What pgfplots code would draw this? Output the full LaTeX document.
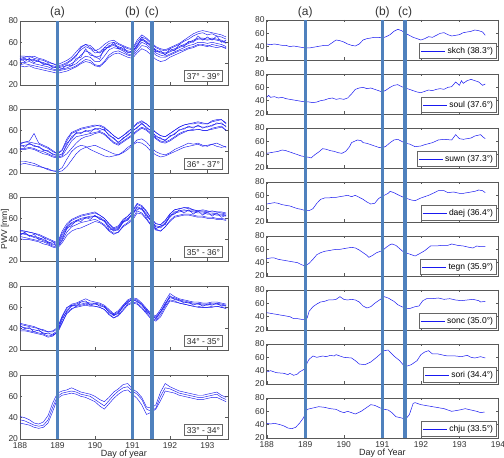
\documentclass[border=0pt]{standalone}
\usepackage{pgfplots}
\usepackage{pgfplotstable}
\pgfplotsset{compat=1.18}
\usepackage{fontspec}
\setmainfont{Liberation Sans}
\definecolor{vl}{RGB}{79,129,189}
\definecolor{dlc}{RGB}{25,25,240}

\tikzset{
 lab/.style={draw=black!60, fill=white, font=\fontsize{8.5}{9}\selectfont, inner sep=2.5pt, anchor=south east, text=black!85},
 dline/.style={color=dlc, line width=0.45pt}
}
\pgfplotsset{
 panel/.style={scale only axis, ymin=20, ymax=80, ytick={20,40,60,80},
   xtick={188,189,190,191,192,193,194}, xticklabels={},
   tick align=inside, major tick length=2.5pt,
   axis line style={black!65, line width=0.5pt}, tick style={black!65, line width=0.4pt},
   tick label style={font=\fontsize{8.5}{9}\selectfont, text=black!80},
   yticklabel style={xshift=1.5pt},
   /pgf/number format/assume math mode=true,
   anchor=south west},
 lpanel/.style={panel, width=208pt, height=64pt, xmin=188, xmax=193.55},
 rpanel/.style={panel, width=231.3pt, height=40pt, xmin=188, xmax=194,
   legend style={at={(0.995,0.04)}, anchor=south east, font=\fontsize{8.5}{9}\selectfont,
     inner sep=1.6pt, draw=black!60, fill=white, legend cell align=left},
   legend image code/.code={\draw[##1] (0cm,0cm) -- (0.85cm,0cm);}}
}

\pgfplotstableread{
x a b c d e f g h
188.000 43 45 41 47 39 44 38 45
188.125 44 46 41 47 40 45 37 42
188.250 44 47 42 46 39 43 38 45
188.375 43 45 40 47 38 44 36 41
188.500 42 44 39 45 37 42 35 43
188.625 40 43 38 44 36 41 34 39
188.750 39 41 37 42 35 39 33 40
188.875 37 40 35 40 34 38 32 36
189.000 36 38 34 39 33 37 31 37
189.125 37 39 35 41 34 38 32 35
189.250 38 41 36 43 35 40 33 39
189.375 40 44 38 46 36 43 35 38
189.500 43 48 40 51 38 47 37 45
189.625 48 53 44 56 41 55 40 46
189.750 52 56 47 58 44 58 42 54
189.875 50 54 46 55 43 57 41 48
190.000 46 50 42 52 39 53 38 47
190.125 47 51 42 54 38 50 37 44
190.250 52 55 47 58 42 53 41 55
190.375 57 59 53 61 48 56 46 55
190.500 58 60 55 62 51 57 49 60
190.625 56 58 54 59 52 55 50 54
190.750 54 56 52 57 50 53 48 56
190.875 52 54 49 55 48 51 46 50
191.000 51 53 48 54 47 50 45 52
191.125 58 60 55 62 52 57 50 56
191.250 63 65 60 67 57 62 54 65
191.375 61 63 58 64 56 60 52 59
191.500 57 59 54 60 52 56 48 58
191.625 53 55 50 56 48 52 44 51
191.750 51 53 48 54 46 50 42 52
191.875 50 52 47 53 46 49 43 48
192.000 52 54 49 55 48 51 46 54
192.125 54 56 51 57 50 53 48 52
192.250 56 58 53 59 52 55 50 58
192.375 58 61 55 62 53 57 52 56
192.500 60 63 57 65 55 59 54 61
192.625 62 66 58 68 56 61 55 60
192.750 64 68 60 70 58 63 57 66
192.875 64 69 60 71 57 63 58 62
193.000 63 67 59 70 56 62 57 65
193.125 64 68 60 69 58 63 56 62
193.250 63 66 59 68 57 62 55 66
193.375 62 65 58 67 56 61 56 60
193.500 60 63 56 65 54 59 55 62
}\Lone

\pgfplotstableread{
x a b c d e f g h
188.000 45 48 43 47 42 31 28 47
188.125 46 49 43 49 42 31 29 44
188.250 47 49 44 50 43 30 28 48
188.375 46 48 43 57 42 29 27 45
188.500 44 47 41 48 40 27 26 45
188.625 42 45 40 46 38 25 25 41
188.750 40 43 38 44 37 23 24 41
188.875 38 40 36 41 35 22 22 37
189.000 36 38 35 38 34 22 21 37
189.125 38 41 36 42 35 25 22 37
189.250 46 50 43 52 38 33 26 48
189.375 54 57 50 58 43 40 32 52
189.500 57 59 54 60 48 44 38 58
189.625 58 61 55 62 52 46 42 57
189.750 59 62 56 63 54 45 44 60
189.875 60 63 57 64 55 42 45 58
190.000 61 64 58 65 57 40 46 62
190.125 62 65 59 64 58 38 44 60
190.250 60 63 57 62 56 36 42 61
190.375 56 59 53 59 52 35 40 55
190.500 52 55 49 55 48 36 38 53
190.625 49 52 47 52 46 37 37 48
190.750 52 55 50 55 49 39 40 53
190.875 56 58 53 59 52 42 44 55
191.000 59 62 56 62 55 46 47 60
191.125 63 66 60 67 59 49 51 62
191.250 66 68 63 69 62 48 52 67
191.375 63 66 61 66 60 45 49 62
191.500 59 62 57 62 56 40 44 60
191.625 55 58 53 58 52 37 40 54
191.750 52 55 50 55 49 35 38 53
191.875 51 54 49 54 48 36 37 50
192.000 54 57 51 57 50 38 39 55
192.125 57 60 54 60 53 40 42 56
192.250 60 63 57 63 56 42 44 61
192.375 62 65 59 65 58 44 46 61
192.500 63 66 60 66 60 45 48 64
192.625 63 66 61 67 60 46 47 62
192.750 64 67 61 68 61 47 48 65
192.875 63 66 60 67 60 45 46 62
193.000 63 66 60 66 60 46 45 64
193.125 65 68 62 69 61 47 47 64
193.250 66 69 63 70 62 45 48 67
193.375 67 70 64 70 63 44 46 66
193.500 63 67 60 66 60 45 44 64
}\Ltwo

\pgfplotstableread{
x a b c d e f g
188.000 46 48 43 49 41 45 44
188.125 45 48 42 48 40 46 47
188.250 44 47 41 47 40 44 43
188.375 43 46 40 46 39 42 45
188.500 42 44 39 45 38 41 40
188.625 40 42 38 43 36 39 42
188.750 38 40 36 41 35 37 37
188.875 36 38 34 39 33 35 38
189.000 34 36 33 37 32 35 33
189.125 42 46 39 48 37 44 40
189.250 50 53 47 55 44 52 51
189.375 55 58 52 59 48 56 53
189.500 57 60 54 61 50 58 58
189.625 59 62 56 63 51 60 57
189.750 60 63 57 64 53 61 61
189.875 61 64 58 65 55 62 59
190.000 62 65 59 66 57 62 63
190.125 60 63 57 63 56 61 59
190.250 57 60 54 60 53 58 58
190.375 52 55 49 55 48 53 50
190.500 48 51 46 50 45 49 49
190.625 50 53 47 52 47 51 49
190.750 56 59 53 58 52 57 57
190.875 59 62 56 62 55 60 58
191.000 63 66 60 67 58 64 65
191.125 70 73 67 74 65 71 68
191.250 68 71 65 72 64 69 70
191.375 63 66 60 67 59 64 61
191.500 57 60 54 60 53 58 59
191.625 52 55 50 55 49 53 50
191.750 51 54 48 54 48 52 53
191.875 55 58 52 58 52 56 54
192.000 61 64 58 64 57 62 63
192.125 65 68 62 68 61 66 64
192.250 66 69 63 69 62 67 68
192.375 67 70 64 70 63 68 65
192.500 67 69 64 70 63 67 68
192.625 66 68 63 68 62 67 64
192.750 65 67 62 67 61 66 67
192.875 65 67 62 68 61 66 63
193.000 64 66 61 67 60 65 66
193.125 64 67 61 66 60 65 62
193.250 63 66 60 66 59 64 65
193.375 63 65 60 66 59 64 61
193.500 62 64 59 65 58 63 63
}\Lthree

\pgfplotstableread{
x a b c d e f
188.000 42 44 40 45 38 43
188.125 41 43 39 44 38 40
188.250 40 42 38 43 37 41
188.375 39 41 37 42 36 37
188.500 38 40 36 40 35 39
188.625 36 38 35 39 34 35
188.750 35 37 33 37 32 36
188.875 35 37 34 38 33 34
189.000 38 40 36 41 37 37
189.125 48 51 45 52 46 50
189.250 57 59 55 60 54 56
189.375 61 63 59 62 58 62
189.500 62 64 60 63 61 61
189.625 63 66 61 65 62 65
189.750 64 68 62 65 63 66
189.875 63 66 61 64 62 62
190.000 63 65 61 64 61 64
190.125 62 64 60 63 60 61
190.250 60 62 58 61 58 61
190.375 56 58 54 57 53 55
190.500 52 54 50 53 50 53
190.625 55 57 53 56 52 54
190.750 60 62 58 61 57 61
190.875 65 67 63 66 62 64
191.000 67 69 65 68 64 68
191.125 66 68 64 67 63 65
191.250 62 64 60 63 59 63
191.375 57 59 55 58 54 56
191.500 52 54 50 53 49 53
191.625 50 52 48 51 47 49
191.750 55 58 53 56 51 56
191.875 63 66 61 64 59 62
192.000 69 73 67 70 66 71
192.125 68 70 66 69 65 67
192.250 66 68 64 67 64 67
192.375 65 67 63 66 63 64
192.500 64 66 62 65 62 65
192.625 63 65 61 64 61 62
192.750 63 65 61 64 60 64
192.875 62 64 60 63 60 61
193.000 62 64 60 63 60 63
193.125 63 65 61 64 60 62
193.250 63 65 61 64 61 64
193.375 62 64 60 63 60 61
193.500 61 63 59 62 59 62
}\Lfour

\pgfplotstableread{
x a b c
188.000 38 41 35
188.125 37 40 34
188.250 35 38 33
188.375 33 35 31
188.500 32 34 30
188.625 33 36 31
188.750 38 42 35
188.875 50 54 46
189.000 60 63 58
189.125 63 65 61
189.250 64 66 62
189.375 65 68 63
189.500 64 66 62
189.625 62 64 60
189.750 61 63 59
189.875 60 62 57
190.000 57 60 55
190.125 54 57 51
190.250 51 55 48
190.375 56 59 53
190.500 61 64 58
190.625 65 67 62
190.750 68 71 65
190.875 69 72 66
191.000 65 67 62
191.125 62 64 58
191.250 57 59 52
191.375 48 50 43
191.500 46 49 45
191.625 49 52 48
191.750 60 64 56
191.875 68 72 65
192.000 67 69 64
192.125 65 67 63
192.250 63 65 61
192.375 62 64 60
192.500 61 63 59
192.625 60 62 58
192.750 59 61 57
192.875 59 61 57
193.000 60 62 58
193.125 61 63 59
193.250 62 64 59
193.375 59 61 57
193.500 57 59 55
}\Lfive

\begin{document}
\begin{tikzpicture}[x=1pt,y=1pt]
\path[use as bounding box] (0,0) rectangle (504,458);

% ---------- left column ----------
\begin{axis}[lpanel, at={(20pt,373pt)}]
\pgfplotsinvokeforeach{a,b,c,d,e,f,g,h}{\addplot[dline] table[x=x,y=#1]{\Lone};}
\node[lab] at (rel axis cs:0.975,0.05) {37° - 39°};
\end{axis}

\begin{axis}[lpanel, at={(20pt,285pt)}]
\pgfplotsinvokeforeach{a,b,c,d,e,f,g,h}{\addplot[dline] table[x=x,y=#1]{\Ltwo};}
\node[lab] at (rel axis cs:0.975,0.05) {36° - 37°};
\end{axis}

\begin{axis}[lpanel, at={(20pt,197pt)}, ylabel={PWV [mm]},
  ylabel style={at={(axis description cs:-0.072,0.5)}, anchor=center, font=\fontsize{8.5}{9}\selectfont, text=black!85}]
\pgfplotsinvokeforeach{a,b,c,d,e,f,g}{\addplot[dline] table[x=x,y=#1]{\Lthree};}
\node[lab] at (rel axis cs:0.975,0.05) {35° - 36°};
\end{axis}

\begin{axis}[lpanel, at={(20pt,108pt)}]
\pgfplotsinvokeforeach{a,b,c,d,e,f}{\addplot[dline] table[x=x,y=#1]{\Lfour};}
\node[lab] at (rel axis cs:0.975,0.05) {34° - 35°};
\end{axis}

\begin{axis}[lpanel, at={(20pt,19pt)}, xticklabels={188,189,190,191,192,193},
  xlabel={Day of year}, xlabel style={font=\fontsize{9}{10}\selectfont, text=black!85, yshift=5pt}]
\pgfplotsinvokeforeach{a,b,c}{\addplot[dline] table[x=x,y=#1]{\Lfive};}
\node[lab] at (rel axis cs:0.975,0.05) {33° - 34°};
\end{axis}

% ---------- right column ----------
\begin{axis}[rpanel, at={(266.7pt,398pt)}]
\addplot[dline, line width=0.5pt] coordinates {(188.0,44)(188.1,43)(188.2,44)(188.3,43)(188.4,42)(188.5,42)(188.6,40)(188.7,41)(188.8,40)(188.9,39)(189.0,38)(189.1,38)(189.2,39)(189.3,40)(189.4,41)(189.5,42)(189.6,42)(189.7,46)(189.8,50)(189.9,49)(190.0,47)(190.1,44)(190.2,42)(190.3,41)(190.4,44)(190.5,50)(190.6,52)(190.7,53)(190.8,54)(190.9,54)(191.0,53)(191.1,55)(191.2,58)(191.3,63)(191.4,66)(191.5,64)(191.6,60)(191.7,57)(191.8,54)(191.9,52)(192.0,50)(192.1,52)(192.2,55)(192.3,54)(192.4,57)(192.5,60)(192.6,61)(192.7,58)(192.8,56)(192.9,57)(193.0,58)(193.1,61)(193.2,62)(193.3,63)(193.4,65)(193.5,64)(193.6,62)(193.67,57)};
\addlegendentry{skch (38.3°)}
\end{axis}

\begin{axis}[rpanel, at={(266.7pt,344pt)}]
\addplot[dline, line width=0.5pt] coordinates {(188.0,45)(188.05,48)(188.1,45)(188.2,46)(188.3,44)(188.4,45)(188.5,43)(188.6,42)(188.7,41)(188.8,40)(188.9,39)(189.0,38)(189.1,38)(189.2,37)(189.3,38)(189.4,40)(189.5,41)(189.6,43)(189.7,44)(189.8,42)(189.9,43)(190.0,42)(190.1,44)(190.2,50)(190.3,57)(190.4,59)(190.5,60)(190.6,58)(190.7,59)(190.8,57)(190.9,55)(191.0,53)(191.1,56)(191.2,60)(191.3,63)(191.4,64)(191.5,61)(191.6,59)(191.7,57)(191.8,55)(191.9,53)(192.0,52)(192.1,54)(192.2,56)(192.3,55)(192.4,57)(192.5,58)(192.6,57)(192.7,60)(192.8,61)(192.9,68)(193.0,63)(193.05,70)(193.1,66)(193.2,70)(193.3,72)(193.4,70)(193.5,68)(193.6,63)(193.67,65)};
\addlegendentry{soul (37.6°)}
\end{axis}

\begin{axis}[rpanel, at={(266.7pt,290pt)}]
\addplot[dline, line width=0.5pt] coordinates {(188.0,42)(188.1,43)(188.2,44)(188.3,45)(188.4,47)(188.5,46)(188.6,44)(188.7,42)(188.8,40)(188.9,38)(189.0,37)(189.1,36)(189.15,35)(189.25,40)(189.35,44)(189.45,49)(189.55,48)(189.65,46)(189.75,45)(189.85,43)(189.95,42)(190.05,45)(190.15,52)(190.2,58)(190.35,62)(190.45,61)(190.5,58)(190.6,57)(190.7,55)(190.8,53)(190.9,51)(191.0,50)(191.1,53)(191.2,58)(191.3,62)(191.4,63)(191.5,60)(191.6,57)(191.7,56)(191.85,52)(192.0,53)(192.1,55)(192.3,58)(192.45,62)(192.6,63)(192.8,62)(192.85,66)(192.9,70)(193.0,64)(193.1,63)(193.2,64)(193.3,65)(193.4,68)(193.55,70)(193.6,67)(193.67,64)};
\addlegendentry{suwn (37.3°)}
\end{axis}

\begin{axis}[rpanel, at={(266.7pt,236pt)}]
\addplot[dline, line width=0.5pt] coordinates {(188.0,47)(188.1,48)(188.2,49)(188.3,48)(188.4,46)(188.5,45)(188.6,44)(188.7,42)(188.8,40)(188.9,39)(189.0,37)(189.1,37)(189.2,40)(189.3,48)(189.4,54)(189.5,56)(189.6,56)(189.7,57)(189.8,57)(189.9,58)(190.0,59)(190.1,60)(190.2,58)(190.3,60)(190.4,57)(190.5,54)(190.6,50)(190.7,47)(190.8,48)(190.9,55)(191.0,59)(191.05,60)(191.15,63)(191.2,66)(191.3,64)(191.4,61)(191.55,57)(191.65,55)(191.75,53)(191.85,52)(192.0,56)(192.1,58)(192.2,60)(192.35,64)(192.45,67)(192.6,67)(192.7,64)(192.85,65)(193.0,63)(193.1,63)(193.2,64)(193.3,65)(193.4,66)(193.5,68)(193.6,67)(193.67,64)};
\addlegendentry{daej (36.4°)}
\end{axis}

\begin{axis}[rpanel, at={(266.7pt,182pt)}]
\addplot[dline, line width=0.5pt] coordinates {(188.0,46)(188.1,47)(188.2,47)(188.3,45)(188.4,44)(188.5,43)(188.6,42)(188.7,41)(188.8,40)(188.9,37)(189.0,35)(189.1,39)(189.2,45)(189.3,52)(189.4,55)(189.5,57)(189.6,58)(189.7,59)(189.8,60)(189.9,60)(190.0,61)(190.1,62)(190.2,63)(190.3,62)(190.4,59)(190.5,55)(190.6,51)(190.65,48)(190.75,51)(190.85,55)(191.0,58)(191.1,63)(191.2,67)(191.25,68)(191.35,66)(191.45,61)(191.55,56)(191.65,54)(191.75,52)(191.85,50)(191.95,53)(192.1,58)(192.25,65)(192.4,65)(192.55,66)(192.7,66)(192.8,68)(192.95,66)(193.1,65)(193.25,63)(193.35,62)(193.45,65)(193.55,64)(193.67,64)};
\addlegendentry{tegn (35.9°)}
\end{axis}

\begin{axis}[rpanel, at={(266.7pt,128pt)}]
\addplot[dline, line width=0.5pt] coordinates {(188.0,46)(188.1,45)(188.2,44)(188.3,43)(188.4,42)(188.5,41)(188.6,40)(188.7,37)(188.8,37)(188.9,36)(189.0,36)(189.05,38)(189.1,48)(189.2,55)(189.3,59)(189.4,62)(189.5,63)(189.6,65)(189.7,65)(189.8,66)(189.9,70)(190.0,66)(190.1,65)(190.2,66)(190.3,65)(190.4,62)(190.5,56)(190.6,53)(190.7,55)(190.8,60)(190.9,64)(191.0,68)(191.05,70)(191.15,68)(191.3,63)(191.4,58)(191.5,55)(191.6,53)(191.7,52)(191.85,55)(191.95,56)(192.05,64)(192.15,67)(192.3,67)(192.45,68)(192.6,66)(192.75,67)(192.9,65)(193.05,64)(193.2,65)(193.35,66)(193.5,64)(193.55,62)(193.67,63)};
\addlegendentry{sonc (35.0°)}
\end{axis}

\begin{axis}[rpanel, at={(266.7pt,74pt)}]
\addplot[dline, line width=0.5pt] coordinates {(188.0,38)(188.1,40)(188.25,37)(188.45,36)(188.55,34)(188.6,36)(188.7,33)(188.8,35)(188.85,38)(189.0,43)(189.05,52)(189.1,57)(189.2,62)(189.3,60)(189.45,62)(189.55,61)(189.65,63)(189.75,62)(189.8,64)(189.9,62)(190.0,60)(190.2,59)(190.3,55)(190.4,50)(190.55,49)(190.7,53)(190.85,60)(190.95,65)(191.05,70)(191.15,71)(191.2,68)(191.3,62)(191.45,55)(191.55,48)(191.65,47)(191.75,49)(191.9,55)(192.0,64)(192.1,68)(192.2,70)(192.3,65)(192.45,65)(192.6,63)(192.7,62)(192.9,62)(193.05,61)(193.2,63)(193.3,60)(193.4,59)(193.55,61)(193.67,59)};
\addlegendentry{sori (34.4°)}
\end{axis}

\begin{axis}[rpanel, at={(266.7pt,20pt)}, xticklabels={188,189,190,191,192,193,194},
  xlabel={Day of Year}, xlabel style={font=\fontsize{9}{10}\selectfont, text=black!85, yshift=5pt}]
\addplot[dline, line width=0.5pt] coordinates {(188.0,42)(188.1,41)(188.2,42)(188.35,40)(188.45,38)(188.55,35)(188.65,34)(188.75,36)(188.85,42)(188.95,50)(189.0,56)(189.05,63)(189.2,65)(189.35,67)(189.5,66)(189.65,64)(189.8,63)(189.9,60)(190.0,58)(190.1,60)(190.2,58)(190.3,56)(190.45,60)(190.6,66)(190.7,70)(190.8,69)(190.95,65)(191.05,63)(191.15,62)(191.25,58)(191.35,52)(191.5,50)(191.6,48)(191.7,55)(191.8,72)(191.85,73)(192.0,70)(192.2,68)(192.4,66)(192.6,64)(192.8,60)(193.0,62)(193.15,64)(193.3,62)(193.45,60)(193.55,58)(193.65,59)};
\addlegendentry{chju (33.5°)}
\end{axis}

% ---------- event lines ----------
\begin{axis}[scale only axis, anchor=south west, at={(20pt,19pt)}, width=208pt, height=418pt,
  xmin=188, xmax=193.55, ymin=0, ymax=1, hide axis, clip=false]
\addplot[vl, line width=3.3pt] coordinates {(189,0) (189,1)};
\addplot[vl, line width=3.3pt] coordinates {(191,0) (191,1)};
\addplot[vl, line width=3.3pt] coordinates {(191.52,0) (191.52,1)};
\node[font=\fontsize{12}{14}\selectfont, text=black!80, yshift=9pt] at (axis cs:189,1) {(a)};
\node[font=\fontsize{12}{14}\selectfont, text=black!80, yshift=9pt] at (axis cs:191,1) {(b)};
\node[font=\fontsize{12}{14}\selectfont, text=black!80, yshift=9pt] at (axis cs:191.52,1) {(c)};
\end{axis}

\begin{axis}[scale only axis, anchor=south west, at={(266.7pt,20pt)}, width=231.3pt, height=418pt,
  xmin=188, xmax=194, ymin=0, ymax=1, hide axis, clip=false]
\addplot[vl, line width=3.3pt] coordinates {(189,0) (189,1)};
\addplot[vl, line width=3.3pt] coordinates {(191,0) (191,1)};
\addplot[vl, line width=3.3pt] coordinates {(191.59,0) (191.59,1)};
\node[font=\fontsize{12}{14}\selectfont, text=black!80, yshift=8pt] at (axis cs:189,1) {(a)};
\node[font=\fontsize{12}{14}\selectfont, text=black!80, yshift=8pt] at (axis cs:191,1) {(b)};
\node[font=\fontsize{12}{14}\selectfont, text=black!80, yshift=8pt] at (axis cs:191.59,1) {(c)};
\end{axis}
\end{tikzpicture}
\end{document}
